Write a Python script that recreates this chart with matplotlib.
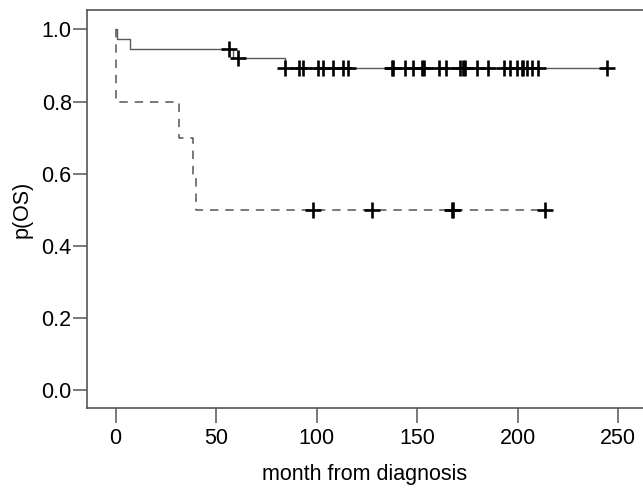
import numpy as np
import matplotlib
matplotlib.use("Agg")
import matplotlib.pyplot as plt

plt.rcParams['font.family'] = ['Liberation Sans', 'DejaVu Sans']

# Group 1 (solid): step times and survival levels
solid_times = [0, 0.5, 7.2, 58.6, 84.3]
solid_surv = [1.0, 0.974, 0.947, 0.920, 0.892]
solid_end = 244.4
solid_censor = [56.6, 61.1, 84.3, 91.4, 93.1, 100.7, 103.1, 108.4, 113.3, 115.5,
                137.4, 138.2, 144.0, 148.2, 152.3, 153.5, 161.1, 164.4, 171.4,
                172.7, 173.9, 179.7, 185.5, 193.3, 196.3, 199.6, 202.1, 202.9,
                204.6, 207.1, 210.3, 244.4]

# Group 2 (dashed)
dash_times = [0, 0, 31.6, 38.7, 40.0]
dash_surv = [1.0, 0.8, 0.7, 0.6, 0.5]
dash_end = 213.7
dash_censor = [98.4, 127.5, 167.3, 167.9, 213.7]

x_ticks = [0, 50, 100, 150, 200, 250]
y_ticks = [0.0, 0.2, 0.4, 0.6, 0.8, 1.0]


def step_value(times, surv, t):
    idx = np.searchsorted(np.asarray(times), t, side='right') - 1
    return np.asarray(surv)[idx]


W, H = 643, 490
fig = plt.figure(figsize=(W / 100, H / 100), dpi=100)
left, top, bottom = 87, 10, 408
ax = fig.add_axes([left / W, 1 - bottom / H, 1 - left / W, (bottom - top) / H])

# solid
xs = list(solid_times) + [solid_end]
ys = list(solid_surv) + [solid_surv[-1]]
ax.step(xs, ys, where='post', color='#5a5a5a', lw=1.0, zorder=2)
cy = [step_value(solid_times, solid_surv, t) for t in solid_censor]
ax.plot(solid_censor, cy, ls='none', marker='+', ms=11, mew=1.9, color='black', zorder=3)

# dashed
xd = list(dash_times) + [dash_end]
yd = list(dash_surv) + [dash_surv[-1]]
ax.step(xd, yd, where='post', color='#555555', lw=1.1, dashes=(5.5, 4.5), zorder=2)
cyd = [step_value(dash_times, dash_surv, t) for t in dash_censor]
ax.plot(dash_censor, cyd, ls='none', marker='+', ms=11, mew=1.9, color='black', zorder=3)

ax.set_xlim(-14.2, 262.4)
ax.set_ylim(-0.0485, 1.054)
ax.set_xticks(x_ticks)
ax.set_yticks(y_ticks)
ax.set_yticklabels([f"{v:.1f}" for v in y_ticks])

for s in ['left', 'bottom', 'top']:
    ax.spines[s].set_color('#555555')
    ax.spines[s].set_linewidth(1.2)
ax.spines['right'].set_visible(False)

ax.tick_params(axis='both', direction='out', colors='#555555', labelcolor='black',
               labelsize=15.5, width=1.1)
ax.tick_params(axis='y', length=10, pad=1)
ax.tick_params(axis='x', length=10.5, pad=4)

ax.set_xlabel('month from diagnosis', fontsize=15.5, va='center')
ax.xaxis.set_label_coords(0.5, (bottom - 474) / (bottom - top))
ax.set_ylabel('p(OS)', fontsize=15.5, va='center')
ax.yaxis.set_label_coords((22 - left) / (W - left), 0.5)

fig.savefig('out.png', dpi=100)
